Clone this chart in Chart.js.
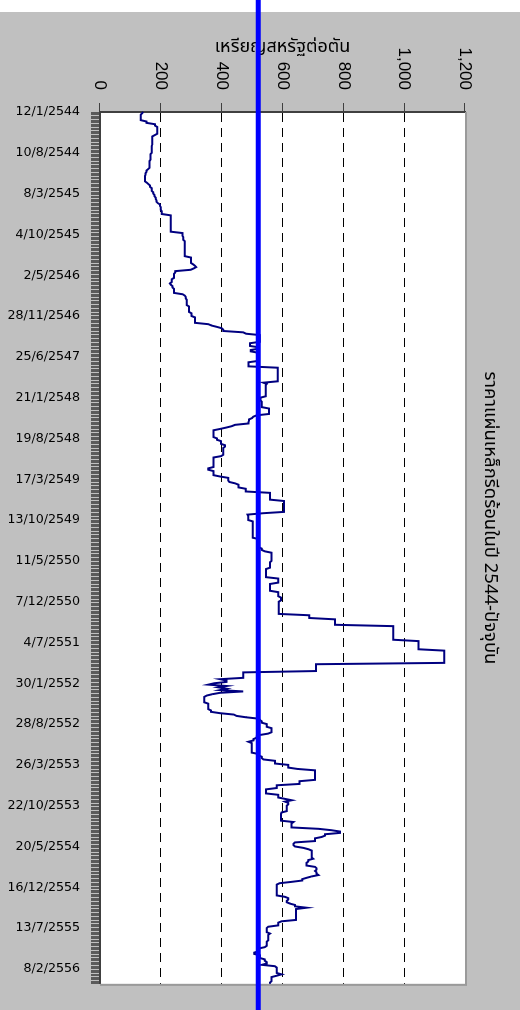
<!DOCTYPE html>
<html>
<head>
<meta charset="utf-8">
<script src="https://cdn.jsdelivr.net/npm/chart.js@4/dist/chart.umd.min.js"></script>
<style>
  html, body { margin: 0; padding: 0; background: #ffffff; overflow: hidden; }
  /* the chart is laid out landscape and turned a quarter turn clockwise */
  #wrap {
    position: absolute; left: 0; top: 0;
    width: 1010px; height: 520px;
    transform-origin: 0 0;
    transform: translate(520px, 0) rotate(90deg);
  }
  canvas { display: block; }
</style>
</head>
<body>
<div id="wrap"><canvas id="chart" width="1010" height="520"></canvas></div>
<script>
// weekly series start (12/1/2544) and length
const firstWeek = [2001, 0, 12];
const weekCount = 642;

// dates printed on the time axis (every 30 weeks)
const tickLabels = [
  '12/1/2544', '10/8/2544', '8/3/2545', '4/10/2545', '2/5/2546', '28/11/2546',
  '25/6/2547', '21/1/2548', '19/8/2548', '17/3/2549', '13/10/2549', '11/5/2550',
  '7/12/2550', '4/7/2551', '30/1/2552', '28/8/2552', '26/3/2553', '22/10/2553',
  '20/5/2554', '16/12/2554', '13/7/2555', '8/2/2556'
];

// price axis ticks (USD per tonne)
const valueTicks = [0, 200, 400, 600, 800, 1000, 1200];

// hot-rolled sheet price, as [weeks held, USD/tonne]
const priceRuns = [
  [1,142],[1,138],[5,134],[2,153],[2,181],[6,188],[1,180],[7,172],[6,170],[5,166],
  [6,163],[1,158],[2,153],[2,150],[5,148],[1,154],[1,159],[2,164],[3,170],[2,175],
  [2,179],[2,183],[2,186],[1,190],[2,197],[3,200],[3,203],[13,233],
  [3,271],[3,274],[12,279],[5,299],[1,306],[1,312],[1,316],[1,308],[1,298],
  [2,247],[4,243],[3,236],[1,230],[1,233],[2,238],[4,243],[1,272],[1,279],
  [2,282],[5,285],[5,293],[3,301],[5,312],[1,356],[1,367],[1,385],[1,400],
  [2,405],[1,471],[1,480],[6,525],[3,493],[2,522],[2,496],[7,520],[4,488],
  [11,584],[1,537],[1,548],[9,545],[3,528],[5,532],[5,556],[1,515],[1,504],
  [1,500],[2,490],[2,488],[1,444],[1,433],[1,415],[1,395],[6,373],[2,385],
  [3,398],[2,411],[6,405],[1,398],[1,373],[7,373],[2,356],[4,373],[1,395],
  [3,422],[1,425],[1,444],[3,455],[3,479],[6,559],[9,605],[1,535],[1,485],
  [4,487],[13,502],[7,522],[2,532],[1,542],[7,564],[5,559],[7,546],[4,586],
  [6,559],[4,586],[3,595],[10,588],[3,688],[5,773],[11,964],[7,1047],[10,1132],
  [6,710],[5,471],[1,395],[2,416],[1,375],[1,356],[1,416],[1,389],[1,416],
  [1,395],[1,471],[1,395],[1,370],[1,351],[5,343],[5,356],[2,365],[1,395],
  [1,440],[1,449],[1,480],[1,521],[1,526],[2,532],[3,548],[4,564],[1,553],
  [1,526],[2,515],[2,505],[1,488],[8,499],[2,521],[2,532],[1,537],[3,575],
  [3,619],[1,650],[8,707],[3,656],[3,581],[4,546],[3,586],[1,608],[1,630],
  [1,608],[2,619],[5,614],[1,597],[6,595],[1,636],[4,630],[1,718],[1,760],
  [2,789],[2,740],[1,729],[3,707],[1,641],[2,636],[1,641],[1,668],[1,685],
  [6,696],[1,701],[2,685],[3,679],[1,707],[2,712],[1,707],[2,712],[1,718],
  [1,696],[1,680],[2,665],[1,630],[1,590],[9,581],[1,608],[2,619],[2,614],
  [1,625],[2,641],[1,679],[9,644],[1,597],[3,586],[1,553],[4,548],[1,559],
  [5,553],[4,548],[1,542],[3,521],[2,507],[3,526],[2,542],[1,548],[1,548],
  [1,532],[1,575],[5,581],[1,597],[1,581],[4,564],[2,559]
];

// marker level drawn across the whole picture
const markerLevel = 520;

const chartTitle = 'ราคาแผ่นเหล็กรีดร้อนในปี 2544-ปัจจุบัน';
const valueAxisTitle = 'เหรียญสหรัฐต่อตัน';
const thaiFont = "'Noto Sans Thai', Tahoma, 'DejaVu Sans', sans-serif";

// Thai-calendar weekly dates
const weeks = [];
for (let i = 0; i < weekCount; i++) {
  const d = new Date(firstWeek[0], firstWeek[1], firstWeek[2] + 7 * i);
  weeks.push(d.getDate() + '/' + (d.getMonth() + 1) + '/' + (d.getFullYear() + 543));
}

const prices = [];
priceRuns.forEach(([n, v]) => { for (let k = 0; k < n; k++) prices.push(v); });

const backdrop = {
  id: 'backdrop',
  beforeDraw(chart) {
    const { ctx, width, height, chartArea: a } = chart;
    ctx.save();
    ctx.fillStyle = '#c0c0c0';
    ctx.fillRect(0, 0, width, height);
    ctx.fillStyle = '#ffffff';
    ctx.fillRect(0, 0, 12, height);
    ctx.fillRect(a.left, a.top, a.right - a.left, a.bottom - a.top);
    ctx.restore();
  }
};

const overlay = {
  id: 'overlay',
  afterDatasetsDraw(chart) {
    const { ctx, chartArea: a } = chart;
    ctx.save();
    ctx.strokeStyle = '#9a9a9a';
    ctx.lineWidth = 2;
    ctx.beginPath();
    ctx.moveTo(a.left, a.top - 1);
    ctx.lineTo(a.right + 1, a.top - 1);
    ctx.lineTo(a.right + 1, a.bottom);
    ctx.stroke();
    ctx.restore();
  },
  afterDraw(chart) {
    const { ctx, width } = chart;
    ctx.save();
    ctx.fillStyle = '#000000';
    ctx.font = '18.5px ' + thaiFont;
    ctx.textAlign = 'center';
    ctx.textBaseline = 'middle';
    ctx.fillText(chartTitle, 518, 31);
    const y = chart.scales.y.getPixelForValue(markerLevel);
    ctx.strokeStyle = '#0000ff';
    ctx.lineWidth = 5;
    ctx.beginPath();
    ctx.moveTo(0, y);
    ctx.lineTo(width, y);
    ctx.stroke();
    ctx.restore();
  }
};

new Chart(document.getElementById('chart'), {
  type: 'line',
  data: {
    labels: weeks,
    datasets: [{
      data: prices,
      borderColor: '#000080',
      borderWidth: 2,
      pointRadius: 0,
      tension: 0,
      fill: false
    }]
  },
  options: {
    responsive: false,
    animation: false,
    events: [],
    layout: { padding: { top: 55, right: 10, left: 0, bottom: 0 } },
    plugins: { legend: { display: false }, title: { display: false }, tooltip: { enabled: false } },
    scales: {
      x: {
        type: 'category',
        offset: false,
        grid: { drawOnChartArea: false, drawTicks: true, tickLength: 9, color: '#5a5a5a', lineWidth: 1 },
        border: { display: true, color: '#404040', width: 2 },
        ticks: {
          autoSkip: false,
          maxRotation: 90,
          minRotation: 90,
          padding: 11,
          color: '#000000',
          font: { family: 'DejaVu Sans', size: 12.6 },
          callback(value) {
            const label = this.getLabelForValue(value);
            return tickLabels.includes(label) ? label : '';
          }
        },
        afterFit(scale) { scale.height = 100; }
      },
      y: {
        min: 0,
        max: 1200,
        afterBuildTicks(scale) { scale.ticks = valueTicks.map(v => ({ value: v })); },
        grid: {
          color(c) {
            const v = c.tick && c.tick.value;
            return (v === 0 || v === 1200) ? 'rgba(0,0,0,0)' : '#000000';
          },
          lineWidth: 1,
          tickLength: 9,
          tickColor: '#404040',
          drawTicks: true
        },
        border: { display: true, color: '#404040', width: 2, dash: [9, 6] },
        ticks: {
          padding: 13,
          color: '#000000',
          font: { family: 'Liberation Sans', size: 17 }
        },
        title: {
          display: true,
          text: valueAxisTitle,
          color: '#000000',
          padding: { top: 38, bottom: 0 },
          font: { family: thaiFont, size: 18 }
        },
        afterFit(scale) { scale.width = 112; }
      }
    }
  },
  plugins: [backdrop, overlay]
});
</script>
</body>
</html>
